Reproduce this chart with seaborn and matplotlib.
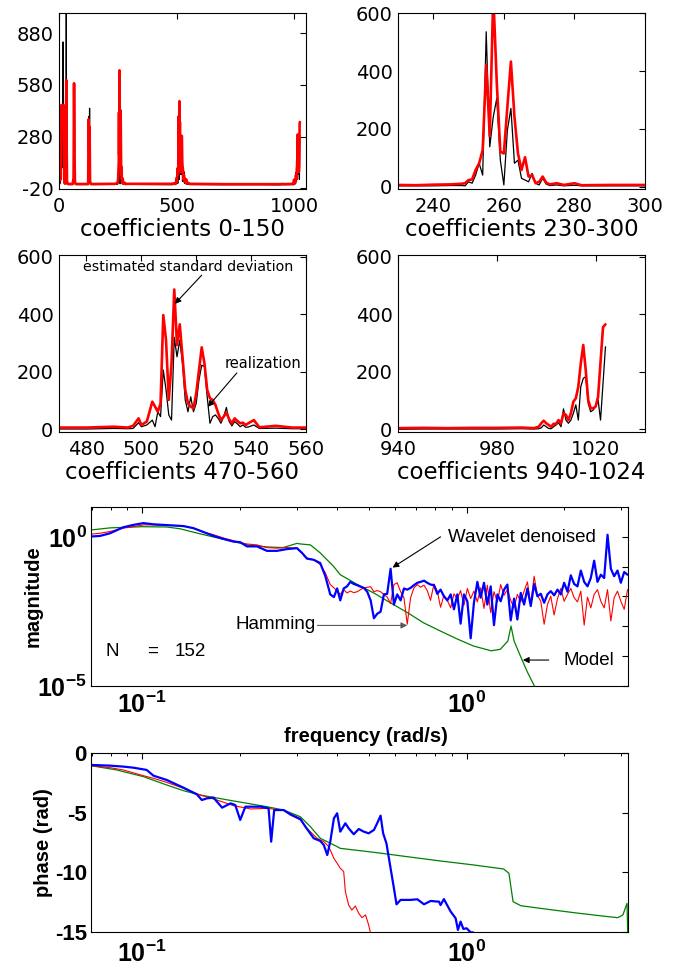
import numpy as np
import pandas as pd
import matplotlib
matplotlib.use("Agg")
import matplotlib.pyplot as plt
import seaborn as sns
from matplotlib.ticker import LogLocator, NullFormatter, NullLocator, FixedLocator, FixedFormatter

# ---------------- wavelet coefficient data ----------------
idx_a = [0, 2, 4, 6, 8, 10, 12, 14, 16, 17, 18, 20, 22, 24, 26, 28, 30, 31, 32, 34, 36, 40,
         58, 62, 64, 66, 68, 72, 100, 124, 126, 128, 130, 132, 136, 150]
std_a = [5, 370, 360, 30, 150, 460, 455, 465, 460, 462, 458, 462, 40, 10, 15, 10, 300, 609, 300, 20, 8, 5,
         5, 40, 590, 150, 15, 5, 5, 5, 380, 200, 338, 20, 5, 5]
real_a = [0, 320, 300, 10, 464, 200, 150, 100, 300, 830, 200, 100, 10, 5, 5, 5, 400, 1100, 200, 10, 3, 2,
          2, 20, 560, 415, 5, 2, 2, 2, 396, 150, 445, 10, 2, 2]

idx_b = [230, 235, 240, 245, 248, 249, 250, 251, 252, 253, 254, 255, 256, 257, 258, 259, 260, 261, 262,
         263, 264, 265, 266, 267, 268, 269, 270, 271, 272, 273, 275, 277, 280, 282, 290, 300]
std_b = [6, 5, 7, 8, 10, 12, 23, 25, 58, 81, 127, 421, 175, 665, 358, 121, 115, 277, 433,
         242, 115, 58, 102, 35, 40, 12, 17, 35, 14, 8, 12, 6, 12, 5, 6, 6]
real_b = [3, 3, 3, 4, 4, 3, 17, 12, 40, 81, 40, 536, 138, 242, 306, 92, 6, 196, 271,
          81, 92, 29, 23, 17, 46, 12, 6, 29, 9, 4, 6, 3, 5, 3, 3, 3]

idx_c = [470, 480, 490, 495, 497, 499, 500, 502, 504, 505, 506, 507, 508, 509, 510, 511, 512, 513, 514,
         515, 516, 517, 518, 519, 520, 521, 522, 523, 524, 525, 526, 527, 528, 529, 530, 531, 532, 533,
         534, 535, 536, 537, 538, 539, 541, 543, 549, 555, 560]
std_c = [6, 6, 9, 6, 12, 38, 15, 27, 96, 79, 61, 90, 397, 310, 102, 229, 486, 293, 365,
         252, 137, 90, 79, 73, 125, 206, 285, 229, 137, 108, 102, 85, 56, 32, 44, 58, 35, 21,
         38, 29, 21, 23, 15, 21, 32, 7, 12, 6, 6]
real_c = [1, 1, 3, 2, 3, 23, 9, 15, 32, 9, 61, 44, 206, 137, 50, 32, 320, 252, 310,
          229, 102, 61, 113, 61, 90, 171, 223, 218, 113, 21, 44, 50, 38, 21, 44, 76, 27, 12,
          27, 19, 9, 15, 7, 8, 15, 3, 4, 2, 2]

idx_d = [700, 850, 940, 950, 960, 970, 980, 990, 995, 997, 998, 999, 1000, 1001, 1002, 1003, 1004, 1005,
         1006, 1007, 1008, 1009, 1010, 1011, 1012, 1013, 1014, 1015, 1016, 1017, 1018, 1019, 1020,
         1021, 1022, 1023, 1024]
std_d = [4, 4, 4, 5, 4, 5, 5, 6, 4, 9, 21, 30, 21, 15, 9, 19, 19, 32,
         21, 56, 50, 32, 56, 96, 108, 148, 229, 293, 206, 102, 73, 73, 79,
         113, 235, 355, 365]
real_d = [1, 1, 0, 1, 1, 1, 1, 2, 1, 2, 5, 15, 9, 3, 2, 9, 15, 23,
          9, 71, 32, 21, 32, 56, 85, 32, 148, 177, 183, 90, 61, 67, 79,
          102, 32, 160, 287]

coef_df = pd.DataFrame({
    "idx": idx_a + idx_b + idx_c + idx_d,
    "std": std_a + std_b + std_c + std_d,
    "real": real_a + real_b + real_c + real_d,
})

# ---------------- Bode data (magnitudes stored as log10) ----------------
freq_lo = [0.0695, 0.0742, 0.0797, 0.0875, 0.0940, 0.1009, 0.1084, 0.1164, 0.1250, 0.1342, 0.1440,
           0.1547, 0.1660, 0.1782, 0.1914, 0.2006, 0.2104, 0.2259, 0.2425, 0.2604, 0.2797, 0.3001,
           0.311, 0.322, 0.338, 0.354, 0.367, 0.380, 0.390, 0.399]
red_lo = [0.09, 0.12, 0.18, 0.29, 0.34, 0.40, 0.40, 0.38, 0.38, 0.36, 0.29,
          0.16, 0.07, -0.04, -0.13, -0.19, -0.24, -0.27, -0.36, -0.38, -0.36, -0.38,
          -0.54, -0.71, -0.77, -0.93, -1.21, -1.60, -1.71, -1.82]
blue_lo = [0.01, 0.03, 0.12, 0.32, 0.40, 0.46, 0.42, 0.40, 0.38, 0.36, 0.29,
           0.16, 0.03, -0.07, -0.16, -0.18, -0.32, -0.32, -0.47, -0.47, -0.41, -0.38,
           -0.54, -0.73, -0.77, -0.88, -1.32, -1.93, -2.02, -1.73]

freq_hi = [0.408, 0.418, 0.428, 0.438, 0.449, 0.460, 0.471, 0.482, 0.494, 0.506, 0.518, 0.530, 0.543,
           0.556, 0.569, 0.583, 0.597, 0.611, 0.626, 0.641, 0.656, 0.672, 0.688, 0.705, 0.721, 0.739,
           0.756, 0.774, 0.793, 0.812, 0.831, 0.851, 0.872, 0.893, 0.914, 0.936, 0.958, 0.981, 1.005,
           1.029, 1.053, 1.079, 1.104, 1.131, 1.158, 1.186, 1.214, 1.244, 1.273, 1.304, 1.335, 1.367,
           1.400, 1.433, 1.468, 1.503, 1.539, 1.576, 1.614, 1.652, 1.692, 1.733, 1.774, 1.816, 1.860,
           1.905, 1.950, 1.997, 2.045, 2.094, 2.144, 2.195, 2.248, 2.302, 2.357, 2.413, 2.471, 2.530,
           2.591, 2.653, 2.717, 2.782, 2.848, 2.916, 2.986, 3.058, 3.131]
red_hi = [-1.93, -1.77, -1.88, -1.82, -1.87, -1.84, -1.77, -1.71, -1.69, -1.67, -1.84, -1.80, -1.84,
          -1.93, -2.02, -2.24, -1.60, -1.54, -1.84, -2.04, -2.93, -2.04, -1.71, -1.60, -1.69, -1.62,
          -1.80, -2.13, -1.58, -1.82, -2.36, -1.96, -2.13, -2.38, -1.91, -2.07, -1.80, -2.29, -1.73,
          -2.07, -1.82, -2.18, -1.71, -2.40, -1.62, -2.54, -1.84, -2.18, -1.60, -1.96, -1.77, -2.13,
          -2.38, -1.93, -2.18, -1.82, -1.51, -2.27, -1.32, -1.96, -2.16, -2.93, -2.27, -1.99, -2.62,
          -2.07, -1.73, -2.16, -1.93, -1.73, -2.04, -2.18, -1.82, -2.96, -2.02, -2.38, -1.93, -1.77,
          -2.16, -2.38, -1.77, -2.82, -2.04, -1.82, -2.16, -2.43, -1.77]
blue_hi = [-2.13, -1.73, -1.66, -1.51, -1.58, -1.62, -1.67, -1.71, -1.84, -2.13, -2.73, -2.58, -2.51,
           -1.93, -1.91, -1.07, -2.27, -1.93, -2.13, -1.73, -1.77, -1.71, -1.62, -1.54, -1.51, -1.47,
           -1.54, -1.60, -1.62, -1.91, -1.77, -1.99, -2.13, -1.93, -2.43, -1.93, -2.91, -1.93, -2.16,
           -3.40, -2.21, -1.51, -2.04, -1.54, -2.27, -1.66, -2.96, -1.93, -2.16, -1.77, -1.60, -2.80,
           -2.07, -2.77, -1.88, -2.27, -1.73, -2.32, -1.58, -1.99, -1.91, -2.21, -1.93, -1.82, -1.96,
           -1.77, -1.93, -1.54, -1.84, -1.29, -1.58, -1.66, -1.13, -1.51, -1.66, -1.38, -0.80, -1.51,
           -1.27, -1.38, 0.07, -1.07, -1.32, -1.13, -1.54, -1.18, -1.27]

model_freq = [0.0696, 0.0797, 0.1, 0.119, 0.131, 0.151, 0.191, 0.216, 0.243, 0.272, 0.300, 0.308, 0.330,
              0.354, 0.389, 0.408, 0.461, 0.517, 0.582, 0.657, 0.736, 0.831, 0.938, 1.05, 1.19, 1.27,
              1.34, 1.37, 1.40, 1.47, 1.54, 1.61, 1.82]
model_mag = [0.23, 0.30, 0.34, 0.33, 0.27, 0.10, -0.16, -0.29, -0.34, -0.36, -0.22, -0.24, -0.27,
             -0.54, -0.99, -1.27, -1.60, -1.88, -2.21, -2.54, -2.88, -3.16, -3.43, -3.66, -3.82, -3.77,
             -3.49, -2.99, -3.49, -4.04, -4.54, -4.96, -5.90]

# ---------------- phase data ----------------
red_ph_freq = [0.0695, 0.0797, 0.0875, 0.1009, 0.1084, 0.1191, 0.1342, 0.1510, 0.1700, 0.1914, 0.2160,
               0.2425, 0.2729, 0.2863, 0.3074, 0.322, 0.346, 0.363, 0.376, 0.390, 0.399, 0.408, 0.418,
               0.423, 0.433, 0.443, 0.454, 0.465, 0.476, 0.488, 0.499, 0.505, 0.511]
red_ph = [-1.06, -1.23, -1.42, -1.90, -2.12, -2.46, -2.96, -3.52, -3.94, -4.41, -4.69,
          -4.64, -4.78, -5.20, -5.61, -6.31, -7.15, -7.43, -7.85, -8.83, -9.24, -9.66, -9.94,
          -11.62, -12.74, -13.16, -12.82, -13.43, -13.80, -13.57, -14.41, -15.03, -16.0]

blue_ph_freq = [0.0695, 0.0797, 0.0875, 0.0940, 0.1033, 0.1084, 0.1191, 0.1342, 0.1474, 0.1528, 0.1584,
                0.1660, 0.1764, 0.1873, 0.1937, 0.2006, 0.2081, 0.2327, 0.2453, 0.2499, 0.2553, 0.2729,
                0.2863, 0.3074, 0.3185, 0.338, 0.354, 0.363, 0.372, 0.380, 0.390, 0.399, 0.408, 0.423,
                0.433, 0.449, 0.465, 0.482, 0.499, 0.518, 0.530, 0.543, 0.553, 0.566, 0.583, 0.597,
                0.608, 0.626, 0.672, 0.705, 0.739, 0.774, 0.822, 0.831, 0.851, 0.868, 0.893, 0.925,
                0.940, 0.958, 0.977, 1.000, 1.029, 1.048, 1.052]
blue_ph = [-1.00, -1.06, -1.14, -1.23, -1.42, -1.90, -2.26, -2.91, -3.46, -3.94, -3.80,
           -3.74, -4.58, -4.22, -4.36, -5.61, -4.50, -4.50, -4.64, -7.43, -4.78, -4.78,
           -5.14, -5.53, -6.17, -7.15, -7.37, -7.71, -8.55, -7.43, -5.47, -5.05, -6.59, -5.89,
           -6.31, -6.81, -6.37, -6.59, -6.73, -6.45, -5.89, -5.25, -6.73, -7.57, -9.66, -11.34,
           -12.68, -12.31, -12.31, -12.26, -12.68, -12.40, -12.46, -12.74, -12.24, -12.68, -13.29, -13.85,
           -14.83, -14.13, -14.74, -14.69, -15.03, -15.03, -16.0]

model_ph_freq = [0.0695, 0.0835, 0.1009, 0.1191, 0.1342, 0.1510, 0.1914, 0.2425, 0.2729, 0.3074, 0.330,
                 0.354, 0.390, 0.408, 0.517, 0.657, 0.831, 1.05, 1.30, 1.35, 1.39, 1.47, 1.69, 2.14,
                 2.72, 2.92, 3.03, 3.12, 3.14]
model_ph = [-1.06, -1.42, -1.98, -2.68, -3.16, -3.52, -4.02, -4.50, -4.78, -5.34, -6.17,
            -7.15, -7.71, -7.99, -8.32, -8.69, -9.05, -9.38, -9.72, -10.08, -12.46, -12.80, -13.02, -13.38,
            -13.71, -13.80, -13.57, -12.60, -16.0]

mag_df = pd.DataFrame({
    "freq": freq_lo + freq_hi,
    "red": 10 ** np.array(red_lo + red_hi),
    "blue": 10 ** np.array(blue_lo + blue_hi),
})
model_df = pd.DataFrame({"freq": model_freq, "mag": 10 ** np.array(model_mag)})

# ---------------- style ----------------
sns.set_theme(style="white")
plt.rcParams.update({
    "font.family": ["DejaVu Sans"],
    "mathtext.fontset": "custom",
    "mathtext.rm": "Liberation Sans",
    "mathtext.bf": "Liberation Sans:bold",
    "axes.unicode_minus": False,
    "axes.edgecolor": "black",
    "axes.linewidth": 0.8,
    "xtick.color": "black",
    "ytick.color": "black",
    "text.color": "black",
    "axes.labelcolor": "black",
})

fig = plt.figure(figsize=(6.8, 9.72), dpi=100)
W, H = 680.0, 972.0


def add_ax(x0, y0, x1, y1):
    return fig.add_axes([x0 / W, 1 - y1 / H, (x1 - x0) / W, (y1 - y0) / H])


def coef_axes(ax, xlim, ylim, xticks, yticks, label):
    sns.lineplot(data=coef_df, x="idx", y="real", color="black", lw=0.9,
                 estimator=None, sort=False, ax=ax)
    sns.lineplot(data=coef_df, x="idx", y="std", color="#ff0000", lw=1.9,
                 estimator=None, sort=False, ax=ax)
    ax.set_xlim(*xlim)
    ax.set_ylim(*ylim)
    ax.set_xticks(xticks)
    ax.set_yticks(yticks)
    ax.set_yticklabels([str(v) for v in yticks])
    ax.tick_params(direction="in", top=True, right=True, length=4, width=0.8, labelsize=14)
    ax.tick_params(axis="x", pad=6)
    ax.tick_params(axis="y", pad=4)
    ax.set_xlabel(label, fontsize=16.5, labelpad=1)
    ax.set_ylabel("")


ax1 = add_ax(59, 13, 306, 189)
coef_axes(ax1, (0, 1050), (-24, 998), [0, 500, 1000], [-20, 280, 580, 880], "coefficients 0-150")
ax2 = add_ax(398, 13, 645, 189)
coef_axes(ax2, (230, 300), (-8, 601), [240, 260, 280, 300], [0, 200, 400, 600], "coefficients 230-300")
ax3 = add_ax(59, 255, 306, 432)
coef_axes(ax3, (470, 560), (-9.4, 606), [480, 500, 520, 540, 560], [0, 200, 400, 600], "coefficients 470-560")
ax4 = add_ax(398, 255, 645, 432)
coef_axes(ax4, (940, 1040), (-9.4, 606), [940, 980, 1020], [0, 200, 400, 600], "coefficients 940-1024")

arrow_k = dict(arrowstyle="-|>", color="black", lw=0.8, mutation_scale=9, shrinkA=0, shrinkB=0)
ax3.text(478.6, 551, "estimated standard deviation", fontsize=10.3, va="baseline", ha="left")
ax3.annotate("", xy=(512.2, 436), xytext=(522.0, 536), arrowprops=arrow_k)
ax3.text(530.4, 212, "realization", fontsize=10.5, va="baseline", ha="left")
ax3.annotate("", xy=(524.2, 78), xytext=(534.8, 196), arrowprops=arrow_k)

# ---------------- Bode magnitude ----------------
lib = ["Liberation Sans", "DejaVu Sans"]
ax5 = add_ax(91, 507, 628, 686)
sns.lineplot(data=model_df, x="freq", y="mag", color="#008000", lw=0.9, estimator=None, sort=False, ax=ax5)
sns.lineplot(data=mag_df, x="freq", y="red", color="#ff0000", lw=0.8, estimator=None, sort=False, ax=ax5)
sns.lineplot(data=mag_df, x="freq", y="blue", color="#0000ff", lw=1.6, estimator=None, sort=False, ax=ax5)
ax5.set_xscale("log")
ax5.set_yscale("log")
ax5.set_xlim(0.0696, np.pi)
ax5.set_ylim(1e-5, 1e1)

ax6 = add_ax(91, 753, 628, 932)
sns.lineplot(x=model_ph_freq, y=model_ph, color="#008000", lw=0.9, estimator=None, sort=False, ax=ax6)
sns.lineplot(x=red_ph_freq, y=red_ph, color="#ff0000", lw=0.8, estimator=None, sort=False, ax=ax6)
sns.lineplot(x=blue_ph_freq, y=blue_ph, color="#0000ff", lw=1.6, estimator=None, sort=False, ax=ax6)
ax6.set_xscale("log")
ax6.set_xlim(0.0696, np.pi)
ax6.set_ylim(-15, 0)

for ax in (ax5, ax6):
    ax.xaxis.set_major_locator(FixedLocator([0.1, 1.0]))
    ax.xaxis.set_major_formatter(FixedFormatter([r"$\mathbf{10^{-1}}$", r"$\mathbf{10^{0}}$"]))
    ax.xaxis.set_minor_locator(LogLocator(base=10, subs=np.arange(2, 10)))
    ax.xaxis.set_minor_formatter(NullFormatter())
    ax.tick_params(which="major", direction="in", top=True, right=True, length=4, width=0.8)
    ax.tick_params(axis="x", which="major", labelsize=18)
    ax.tick_params(which="minor", direction="in", top=True, right=True, length=2.5, width=0.7)
    ax.tick_params(axis="y", pad=3)

ax5.yaxis.set_major_locator(FixedLocator([1e-5, 1e-4, 1e-3, 1e-2, 1e-1, 1e0]))
ax5.yaxis.set_major_formatter(FixedFormatter([r"$\mathbf{10^{-5}}$", "", "", "", "", r"$\mathbf{10^{0}}$"]))
ax5.yaxis.set_minor_locator(NullLocator())
ax5.tick_params(axis="y", labelsize=18)
ax5.tick_params(axis="x", pad=4)
ax5.set_xlabel("frequency (rad/s)", fontsize=14.5, fontweight="bold", family=lib)
ax5.xaxis.set_label_coords(0.512, -0.229)
ax5.set_ylabel("magnitude", fontsize=14.5, fontweight="bold", family=lib)
ax5.yaxis.set_label_coords(-0.090, 0.5)

ax6.set_yticks([0, -5, -10, -15])
ax6.set_yticklabels(["0", "-5", "-10", "-15"], fontsize=16, fontweight="bold", family=lib)
ax6.yaxis.set_minor_locator(NullLocator())
ax6.tick_params(axis="x", pad=6)
ax6.set_xlabel("")
ax6.set_ylabel("phase (rad)", fontsize=14.5, fontweight="bold", family=lib)
ax6.yaxis.set_label_coords(-0.0713, 0.5)

# annotations on magnitude plot
ax5.text(0.874, 10 ** -0.03, "Wavelet denoised", fontsize=13.5, family=lib, va="center", ha="left")
ax5.annotate("", xy=(0.591, 10 ** -1.03), xytext=(0.831, 1.0), arrowprops=arrow_k)
ax5.text(0.194, 10 ** -2.93, "Hamming", fontsize=13.5, family=lib, va="center", ha="left")
ax5.annotate("", xy=(0.656, 10 ** -2.97), xytext=(0.347, 10 ** -2.97),
             arrowprops=dict(arrowstyle="-|>", color="0.35", lw=0.8, mutation_scale=9, shrinkA=0, shrinkB=0))
ax5.text(1.99, 10 ** -4.13, "Model", fontsize=13.5, family=lib, va="center", ha="left")
ax5.annotate("", xy=(1.49, 10 ** -4.13), xytext=(1.79, 10 ** -4.13), arrowprops=arrow_k)
ax5.text(0.0774, 10 ** -3.83, "N", fontsize=13.5, family=lib, va="center", ha="left")
ax5.text(0.1035, 10 ** -3.83, "=", fontsize=13.5, family=lib, va="center", ha="left")
ax5.text(0.1264, 10 ** -3.83, "152", fontsize=13.5, family=lib, va="center", ha="left")

fig.savefig("out.png", dpi=100)
